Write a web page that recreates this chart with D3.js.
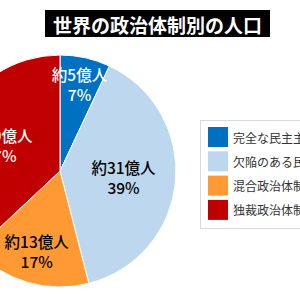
<!DOCTYPE html>
<html><head><meta charset="utf-8">
<script src="https://cdn.jsdelivr.net/npm/d3@7"></script>
<style>body{margin:0;background:#fff}svg{display:block}</style>
</head><body>
<script>
const categories = ["完全な民主主義", "欠陥のある民主主義", "混合政治体制", "独裁政治体制"];
const population = ["約5億人", "約31億人", "約13億人", "約29億人"];
const percents = [7, 39, 17, 37];
const colors = ["#0070c0", "#bdd7ee", "#ff9933", "#c00000"];
const labelColors = ["#fff", "#000", "#000", "#fff"];
const title = "世界の政治体制別の人口";

const W = 300, H = 300;
const svg = d3.select("body").append("svg").attr("width", W).attr("height", H);
const font = "'Noto Sans CJK JP', 'Noto Sans', sans-serif";

// title
const tg = svg.append("g");
tg.append("rect").attr("x", 45).attr("y", 10).attr("width", 225).attr("height", 27).attr("fill", "#000");
tg.append("text").attr("x", 157.5).attr("y", 24).attr("text-anchor", "middle").attr("dominant-baseline", "central")
  .attr("fill", "#fff").attr("font-family", font).attr("font-weight", "bold").attr("font-size", 19).text(title);

// pie
const cx = 60, cy = 171, R = 116;
const data = categories.map((c, i) => ({c, p: percents[i], pop: population[i], i}));
const pie = d3.pie().value(d => d.p).sort(null);
const arcs = pie(data);
const arc = d3.arc().innerRadius(0).outerRadius(R);
const labelFactor = [0.77, 0.55, 0.72, 0.56];
const g = svg.append("g").attr("transform", `translate(${cx},${cy})`);
g.selectAll("path").data(arcs).join("path").attr("d", arc)
  .attr("fill", d => colors[d.data.i]).attr("stroke", "#fff").attr("stroke-width", 1);
const lab = g.selectAll("g.lab").data(arcs).join("g").attr("class", "lab")
  .attr("transform", d => {
    const a = (d.startAngle + d.endAngle) / 2, r = R * labelFactor[d.data.i];
    return `translate(${r * Math.sin(a)},${-r * Math.cos(a)})`;
  })
  .attr("text-anchor", "middle").attr("font-family", font).attr("font-size", 15.5).attr("font-weight", 500)
  .attr("fill", d => labelColors[d.data.i]);
lab.append("text").attr("y", -10).attr("dominant-baseline", "central").text(d => d.data.pop);
lab.append("text").attr("y", 10).attr("dominant-baseline", "central").text(d => d.data.p + "%");

// legend
const lg = svg.append("g");
lg.append("rect").attr("x", 200.5).attr("y", 120.5).attr("width", 120).attr("height", 108)
  .attr("fill", "#fff").attr("stroke", "#d9d9d9");
const items = lg.selectAll("g.it").data(categories).join("g").attr("class", "it")
  .attr("transform", (d, i) => `translate(208,${127 + i * 24.3})`);
items.append("rect").attr("width", 20).attr("height", 20).attr("fill", (d, i) => colors[i]);
items.append("text").attr("x", 25).attr("y", 10).attr("dominant-baseline", "central")
  .attr("font-family", font).attr("font-size", 12).attr("fill", "#333").text(d => d);
</script>
</body></html>
